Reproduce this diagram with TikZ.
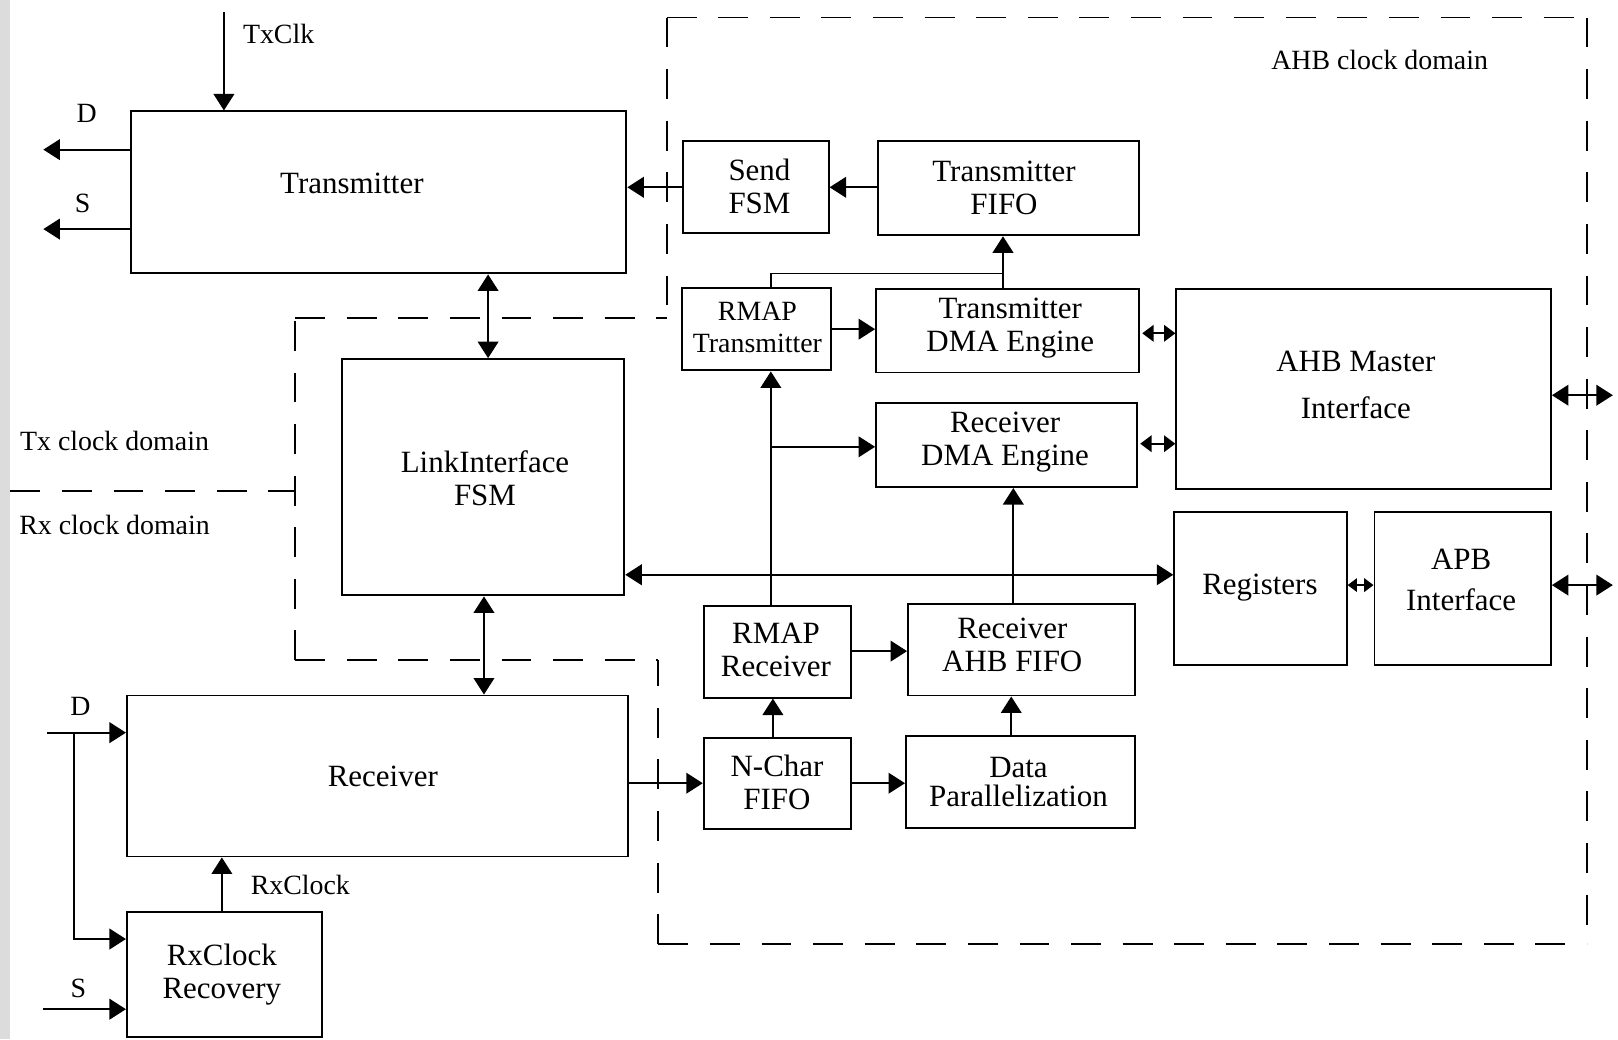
\documentclass[tikz,border=0pt]{standalone}
\usepackage{fontspec}
\setmainfont{Liberation Serif}
\usetikzlibrary{arrows.meta,fit}
\definecolor{strip}{RGB}{220,220,220}
\begin{document}
\begin{tikzpicture}[x=1pt,y=-1pt,
  box/.style={draw, line width=1.9pt, inner sep=0pt, fit={#1}},
  lbl/.style={font=\fontsize{30}{32}\selectfont, align=center, inner sep=0pt},
  sm/.style={font=\fontsize{27}{30}\selectfont, inner sep=0pt},
  wire/.style={line width=1.8pt},
  arr/.style={wire, -{Triangle[length=16pt,width=20pt]}},
  darr/.style={wire, {Triangle[length=16pt,width=20pt]}-{Triangle[length=16pt,width=20pt]}},
  sdarr/.style={wire, {Triangle[length=11pt,width=16pt]}-{Triangle[length=11pt,width=16pt]}},
  ssdarr/.style={wire, {Triangle[length=9pt,width=13pt]}-{Triangle[length=9pt,width=13pt]}},
  dom/.style={line width=1.8pt, dash pattern=on 29pt off 21pt},
]
\useasboundingbox (0,0) rectangle (1568,1007);
\fill[white] (0,0) rectangle (1568,1007);
\fill[strip] (0,0) rectangle (10,1007);

% domain boundaries (each edge drawn from a corner so the corners show)
\coordinate (c1) at (646,17);
\coordinate (c2) at (1538,17);
\coordinate (c3) at (1538,915);
\coordinate (c4) at (638,915);
\coordinate (c5) at (638,640);
\coordinate (c6) at (286,640);
\coordinate (c7) at (286,308);
\coordinate (c8) at (646,308);
\draw[dom] (c1) -- (c2);
\draw[dom] (c1) -- (c8);
\draw[dom] (c2) -- (c3);
\draw[dom] (c4) -- (c3);
\draw[dom] (c4) -- (c5);
\draw[dom] (c6) -- (c5);
\draw[dom] (c6) -- (c7);
\draw[dom] (c7) -- (c8);
\draw[dom] (10,476) -- (286,476);

% boxes
\node[box={(127,108)(607,265)}] (tx) {};
\node[box={(662,137)(803,226)}] (send) {};
\node[box={(851,137)(1104,228)}] (fifo) {};
\node[box={(661,279)(805,359)}] (rmaptx) {};
\node[box={(849,280)(1104,361)}] (txdma) {};
\node[box={(1140,280)(1503,474)}] (ahb) {};
\node[box={(849,391)(1102,472)}] (rxdma) {};
\node[box={(1138,496)(1305,644)}] (reg) {};
\node[box={(1332,496)(1503,644)}] (apb) {};
\node[box={(331,348)(605,577)}] (link) {};
\node[box={(682,587)(825,676)}] (rmaprx) {};
\node[box={(880,585)(1100,674)}] (ahbfifo) {};
\node[box={(682,715)(825,803)}] (nchar) {};
\node[box={(878,713)(1100,802)}] (datapar) {};
\node[box={(123,674)(609,830)}] (rx) {};
\node[box={(123,884)(312,1005)}] (rec) {};

% box texts
\node[lbl] (tTx) at (341,178) {Transmitter};
\node[lbl] (tSend) at (736,181) {Send\\FSM};
\node[lbl] (tFifo) at (973,182) {Transmitter\\FIFO};
\node[lbl,font=\fontsize{27}{31}\selectfont] (tRmapTx) at (734,317) {RMAP\\Transmitter};
\node[lbl] (tTxDma) at (979,318) {Transmitter\\DMA Engine};
\node[lbl,font=\fontsize{30}{45}\selectfont] (tAhb) at (1314,373) {AHB Master\\Interface};
\node[lbl] (tRxDma) at (974,428) {Receiver\\DMA Engine};
\node[lbl] (tLink) at (470,463) {LinkInterface\\FSM};
\node[lbl] (tReg) at (1221,569) {Registers};
\node[lbl,font=\fontsize{30}{39}\selectfont] (tApb) at (1416,562) {APB\\Interface};
\node[lbl] (tRmapRx) at (752,630) {RMAP\\Receiver};
\node[lbl] (tAhbFifo) at (981,625) {Receiver\\AHB FIFO};
\node[lbl] (tNchar) at (753,758) {N-Char\\FIFO};
\node[lbl,font=\fontsize{30}{28}\selectfont] (tData) at (987,758) {Data\\Parallelization};
\node[lbl] (tRx) at (371,752) {Receiver};
\node[lbl] (tRec) at (215,944) {RxClock\\Recovery};

% free labels
\node[sm] (lTxClk) at (270,33) {TxClk};
\node[sm] (lD1) at (84,110) {D};
\node[sm] (lS1) at (80,197) {S};
\node[sm] (lD2) at (78,685) {D};
\node[sm] (lS2) at (76,958) {S};
\node[sm] (lRxClock) at (291,858) {RxClock};
\node[sm] (lTxDom) at (111,427) {Tx clock domain};
\node[sm] (lRxDom) at (111,509) {Rx clock domain};
\node[sm] (lAhbDom) at (1337,58) {AHB clock domain};

% helper coordinates
\coordinate (txclk) at (217,12);
\coordinate (dout) at (42,145);
\coordinate (sout) at (42,222);
\coordinate (j0) at (747,265);
\coordinate (j1) at (972,265);
\coordinate (y323) at (0,323);
\coordinate (y430) at (0,430);
\coordinate (ahbout) at (1563,383);
\coordinate (y567) at (0,567);
\coordinate (apbout) at (1563,567);
\coordinate (x473) at (473,0);
\coordinate (x469) at (469,0);
\coordinate (y557) at (0,557);
\coordinate (j2) at (747,433);
\coordinate (x982) at (982,0);
\coordinate (y631) at (0,631);
\coordinate (x749) at (749,0);
\coordinate (y759) at (0,759);
\coordinate (x980) at (980,0);
\coordinate (x215) at (215,0);
\coordinate (din) at (46,710);
\coordinate (dbr) at (72,710);
\coordinate (y910) at (0,910);
\coordinate (sin) at (42,978);

% connectors
\draw[arr] (txclk) -- (txclk |- tx.north);
\draw[arr] (tx.west |- dout) -- (dout);
\draw[arr] (tx.west |- sout) -- (sout);
\draw[arr] (send.west) -- (send.west -| tx.east);
\draw[arr] (fifo.west |- send.east) -- (send.east);
\draw[arr] (rmaptx.east) -- (rmaptx.east -| txdma.west);
\draw[wire] (rmaptx.north -| j0) -- (j0) -- (j1);
\draw[arr] (txdma.north -| j1) -- (fifo.south -| j1);
\draw[sdarr, shorten <=2pt] (txdma.east |- y323) -- (ahb.west |- y323);
\draw[sdarr, shorten <=2pt] (rxdma.east |- y430) -- (ahb.west |- y430);
\draw[darr] (ahb.east |- ahbout) -- (ahbout);
\draw[ssdarr] (reg.east |- y567) -- (apb.west |- y567);
\draw[darr] (apb.east |- apbout) -- (apbout);
\draw[darr] (tx.south -| x473) -- (link.north -| x473);
\draw[darr] (link.south -| x469) -- (rx.north -| x469);
\draw[darr] (link.east |- y557) -- (reg.west |- y557);
\draw[arr] (rmaprx.north -| j2) -- (rmaptx.south -| j2);
\draw[arr] (j2) -- (rxdma.west |- j2);
\draw[arr] (ahbfifo.north -| x982) -- (rxdma.south -| x982);
\draw[arr] (rmaprx.east |- y631) -- (ahbfifo.west |- y631);
\draw[arr] (nchar.north -| x749) -- (rmaprx.south -| x749);
\draw[arr] (nchar.east |- y759) -- (datapar.west |- y759);
\draw[arr] (datapar.north -| x980) -- (ahbfifo.south -| x980);
\draw[arr] (rx.east |- y759) -- (nchar.west |- y759);
\draw[arr] (rec.north -| x215) -- (rx.south -| x215);
\draw[arr] (din) -- (rx.west |- din);
\draw[arr] (dbr) |- (rec.west |- y910);
\draw[arr] (sin) -- (rec.west |- sin);
\end{tikzpicture}
\end{document}
